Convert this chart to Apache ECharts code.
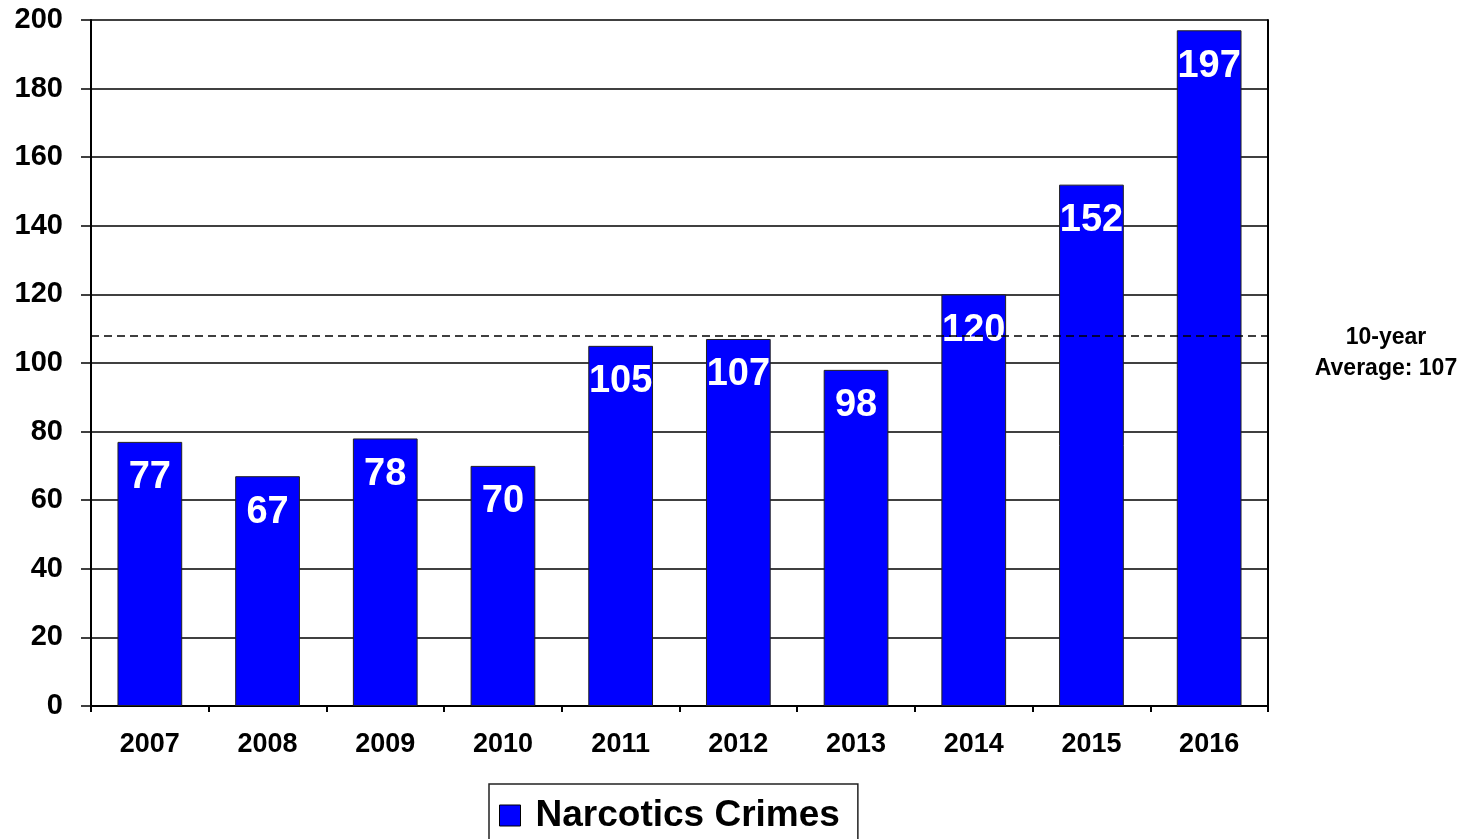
<!DOCTYPE html>
<html><head><meta charset="utf-8">
<script src="https://cdn.jsdelivr.net/npm/echarts@6/dist/echarts.min.js"></script>
<style>html,body{margin:0;padding:0;background:#fff}#c{width:1467px;height:839px}</style>
</head><body><div id="c"></div>
<script>
const years = ['2007','2008','2009','2010','2011','2012','2013','2014','2015','2016'];
const narcotics = [77, 67, 78, 70, 105, 107, 98, 120, 152, 197];
const averageLine = 108;
const averageLines = ['10-year', 'Average: 107'];
const yTicks = {min: 0, max: 200, interval: 20};
const seriesName = 'Narcotics Crimes';

const F = '"Liberation Sans", Arial, sans-serif';
const chart = echarts.init(document.getElementById('c'));
chart.setOption({
  animation: false,
  backgroundColor: '#fff',
  grid: {left: 91, right: 199, top: 20, bottom: 133},
  legend: {
    data: [{name: seriesName, icon: 'rect'}], bottom: -11, left: 489,
    itemWidth: 21, itemHeight: 21, itemGap: 10,
    borderColor: '#222', borderWidth: 1.5, padding: [13, 18, 16, 10],
    itemStyle: {borderColor: '#000', borderWidth: 1},
    textStyle: {fontFamily: F, fontWeight: 'bold', fontSize: 37, color: '#000', padding: [0, 0, 0, 10]}
  },
  xAxis: [{
    type: 'category', data: years,
    axisLine: {lineStyle: {color: '#000', width: 2}},
    axisTick: {show: true, alignWithLabel: false, length: 6, lineStyle: {color: '#000', width: 2}},
    axisLabel: {fontFamily: F, fontWeight: 'bold', fontSize: 27, color: '#000', margin: 25},
    splitLine: {show: false}
  }],
  yAxis: [{
    type: 'value', min: yTicks.min, max: yTicks.max, interval: yTicks.interval,
    axisLine: {show: true, lineStyle: {color: '#000', width: 2}},
    axisTick: {show: true, length: 10, lineStyle: {color: '#000', width: 1.5}},
    axisLabel: {fontFamily: F, fontWeight: 'bold', fontSize: 29, color: '#000', margin: 28},
    splitLine: {show: true, lineStyle: {color: '#000', width: 1.5}}
  }, {
    type: 'value', min: yTicks.min, max: yTicks.max, interval: yTicks.interval, position: 'right',
    axisLine: {show: true, lineStyle: {color: '#000', width: 2}},
    axisTick: {show: false}, axisLabel: {show: false}, splitLine: {show: false}
  }],
  series: [{
    name: seriesName, type: 'bar', data: narcotics, barWidth: '55%',
    itemStyle: {color: '#0000FF', borderColor: '#222', borderWidth: 1},
    label: {show: true, position: 'insideTop', distance: 17, color: '#fff',
      fontFamily: F, fontWeight: 'bold', fontSize: 38},
    markLine: {
      silent: true, symbol: 'none',
      lineStyle: {color: '#000', type: [8, 5], width: 1.5},
      label: {show: true, position: 'end',
        formatter: '{s| }\n' + averageLines.map(t => '{a|' + t + '}').join('\n'),
        align: 'center', distance: [118, 0],
        rich: {
          s: {fontSize: 10, lineHeight: 36},
          a: {fontFamily: F, fontWeight: 'bold', fontSize: 23, color: '#000', lineHeight: 31, align: 'center'}
        }},
      data: [{yAxis: averageLine}]
    }
  }]
});
</script></body></html>
